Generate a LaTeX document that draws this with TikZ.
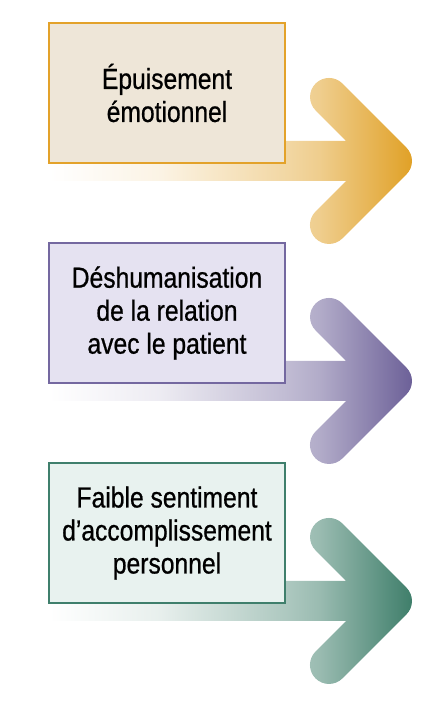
\documentclass[tikz,border=0pt]{standalone}
\usepackage{fontspec}
\setmainfont{Liberation Sans}[FakeStretch=0.85, FakeBold=0.7]
\definecolor{goldC}{HTML}{E0A025}
\definecolor{goldB}{HTML}{E3A22A}
\definecolor{goldF}{HTML}{EEE6D8}
\definecolor{purpC}{HTML}{6B5F97}
\definecolor{purpB}{HTML}{7468A0}
\definecolor{purpF}{HTML}{E5E2F1}
\definecolor{grnC}{HTML}{3D7D69}
\definecolor{grnB}{HTML}{3F7F6C}
\definecolor{grnF}{HTML}{E8F2EF}
\pgfdeclarehorizontalshading{goldsh}{100bp}{color(0bp)=(white); color(25bp)=(white); color(40bp)=(goldC!12); color(57.5bp)=(goldC!42); color(62bp)=(goldC!52); color(75bp)=(goldC); color(100bp)=(goldC)}
\pgfdeclarehorizontalshading{purpsh}{100bp}{color(0bp)=(white); color(25bp)=(white); color(40bp)=(purpC!12); color(57.5bp)=(purpC!42); color(62bp)=(purpC!52); color(75bp)=(purpC); color(100bp)=(purpC)}
\pgfdeclarehorizontalshading{grnsh}{100bp}{color(0bp)=(white); color(25bp)=(white); color(40bp)=(grnC!12); color(57.5bp)=(grnC!42); color(62bp)=(grnC!52); color(75bp)=(grnC); color(100bp)=(grnC)}
\newcommand\bigarrow[2]{%
  \shade[shading=#2, yshift=#1]
    (49,20) -- (346.2,20) -- (315.6,50.6)
    arc[start angle=225, end angle=45, radius=19]
    -- (406.4,13.4)
    arc[start angle=45, end angle=-45, radius=19]
    -- (342.4,-77.4)
    arc[start angle=-45, end angle=-225, radius=19]
    -- (346.2,-20) -- (49,-20) -- cycle;}
\tikzset{
  box/.style={draw, line width=2pt, minimum width=236pt, minimum height=140pt,
    align=center, inner sep=0pt, text=black,
    font=\fontsize{29}{33}\selectfont}
}
\begin{document}
\begin{tikzpicture}[x=1pt, y=1pt]
\useasboundingbox (0,0) rectangle (435,704);
\bigarrow{543pt}{goldsh}
\bigarrow{323pt}{purpsh}
\bigarrow{103pt}{grnsh}
\node[box, draw=goldB, fill=goldF] (b1) at (167,611) {Épuisement\\émotionnel};
\node[box, draw=purpB, fill=purpF] (b2) at (167,391) {Déshumanisation\\de la relation\\avec le patient};
\node[box, draw=grnB, fill=grnF] (b3) at (167,171) {Faible sentiment\\d’accomplissement\\personnel};
\end{tikzpicture}
\end{document}
